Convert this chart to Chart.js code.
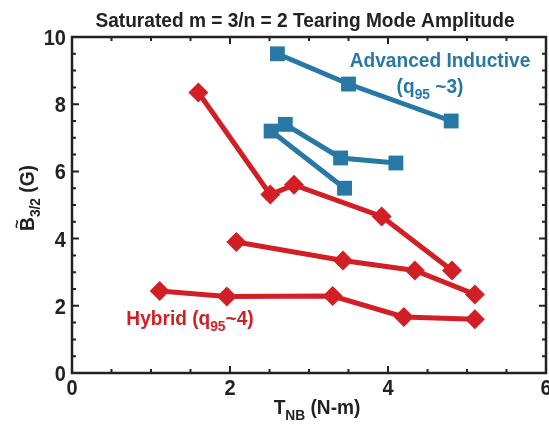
<!DOCTYPE html>
<html>
<head>
<meta charset="utf-8">
<script src="https://cdn.jsdelivr.net/npm/chart.js@4.4.1/dist/chart.umd.min.js"></script>
<style>
  html, body { margin: 0; padding: 0; background: #fff; }
  #wrap { width: 549px; height: 425px; }
</style>
</head>
<body>
<div id="wrap"><canvas id="tearingChart" width="549" height="425"></canvas></div>
<script>
const FONT = "'Liberation Sans', Arial, sans-serif";
const NARROW = 0.91; // squeeze to imitate a condensed face
const BLUE = "#2878a6";
const RED = "#d21f26";

// torque T_NB (N-m) and saturated amplitude (G)
const aiHighT = [2.6, 3.5, 4.8];
const aiHighB = [9.5, 8.6, 7.5];
const aiMidT = [2.7, 3.4, 4.1];
const aiMidB = [7.4, 6.4, 6.25];
const aiLowT = [2.52, 3.45];
const aiLowB = [7.2, 5.5];

const hyTopT = [1.6, 2.51, 2.81, 3.92, 4.81];
const hyTopB = [8.35, 5.31, 5.6, 4.66, 3.05];
const hyMidT = [2.08, 3.43, 4.34, 5.1];
const hyMidB = [3.9, 3.35, 3.05, 2.34];
const hyLowT = [1.11, 1.96, 3.3, 4.2, 5.1];
const hyLowB = [2.44, 2.28, 2.29, 1.67, 1.6];

const xTicks = [0, 2, 4, 6];
const yTicks = [0, 2, 4, 6, 8, 10];

function pts(xs, ys) {
  return xs.map((x, i) => ({ x: x, y: ys[i] }));
}

function series(xs, ys, color, shape, r) {
  return {
    data: pts(xs, ys),
    showLine: true,
    borderColor: color,
    backgroundColor: color,
    borderWidth: 5,
    pointStyle: shape,
    pointRadius: r,
    pointHoverRadius: r,
    pointBorderWidth: 0,
  };
}

// draw text made of [string, isSubscript] runs, squeezed horizontally
function runs(ctx, parts, x, y, size, align) {
  let w = 0;
  parts.forEach(([t, sub]) => {
    ctx.font = "bold " + (sub ? size * 0.72 : size) + "px " + FONT;
    w += ctx.measureText(t).width;
  });
  ctx.save();
  ctx.translate(x, y);
  ctx.scale(NARROW, 1);
  let cx = align === "center" ? -w / 2 : align === "right" ? -w : 0;
  parts.forEach(([t, sub]) => {
    ctx.font = "bold " + (sub ? size * 0.72 : size) + "px " + FONT;
    ctx.fillText(t, cx, sub ? size * 0.28 : 0);
    cx += ctx.measureText(t).width;
  });
  ctx.restore();
}

const framePlugin = {
  id: "frame",
  afterDraw(chart) {
    const { ctx, chartArea: a, scales } = chart;
    ctx.save();
    ctx.strokeStyle = "#222";
    ctx.lineWidth = 2.5;
    ctx.strokeRect(a.left, a.top, a.right - a.left, a.bottom - a.top);
    ctx.lineWidth = 2;
    ctx.beginPath();
    for (let v = 0; v <= 6.001; v += 0.5) {
      const px = scales.x.getPixelForValue(v);
      const len = Math.abs(v % 2) < 0.01 ? 7 : 4;
      ctx.moveTo(px, a.bottom); ctx.lineTo(px, a.bottom - len);
      ctx.moveTo(px, a.top); ctx.lineTo(px, a.top + len);
    }
    for (let v = 0; v <= 10.001; v += 0.5) {
      const py = scales.y.getPixelForValue(v);
      const len = Math.abs(v % 2) < 0.01 ? 7 : 4;
      ctx.moveTo(a.left, py); ctx.lineTo(a.left + len, py);
      ctx.moveTo(a.right, py); ctx.lineTo(a.right - len, py);
    }
    ctx.stroke();

    ctx.textBaseline = "alphabetic";
    ctx.textAlign = "left";
    ctx.fillStyle = "#222";
    // tick labels
    xTicks.forEach(v => runs(ctx, [[String(v), false]], scales.x.getPixelForValue(v), a.bottom + 22, 22, "center"));
    yTicks.forEach(v => runs(ctx, [[String(v), false]], a.left - 6, scales.y.getPixelForValue(v) + 8, 22, "right"));
    // title
    runs(ctx, [["Saturated m = 3/n = 2 Tearing Mode Amplitude", false]], 305, 27, 21, "center");
    // x axis title
    runs(ctx, [["T", false], ["NB", true], [" (N-m)", false]], 317, 414, 21, "center");
    // y axis title
    ctx.save();
    ctx.translate(34, 198);
    ctx.rotate(-Math.PI / 2);
    runs(ctx, [["B", false], ["3/2", true], [" (G)", false]], 0, 0, 21, "center");
    ctx.restore();
    // tilde over B
    ctx.save();
    ctx.translate(22, 224);
    ctx.rotate(-Math.PI / 2);
    ctx.font = "bold 15px " + FONT;
    ctx.textAlign = "center";
    ctx.fillText("~", 0, 0);
    ctx.restore();

    // annotations
    ctx.fillStyle = BLUE;
    runs(ctx, [["Advanced Inductive", false]], 440, 67, 21, "center");
    runs(ctx, [["(q", false], ["95", true], [" ~3)", false]], 430, 93, 21, "center");
    ctx.fillStyle = RED;
    runs(ctx, [["Hybrid (q", false], ["95", true], ["~4)", false]], 190, 325, 21, "center");
    ctx.restore();
  },
};

const ctxTearing = document.getElementById("tearingChart").getContext("2d");

const TearingChart = new Chart(ctxTearing, {
  type: "scatter",
  data: {
    datasets: [
      series(aiHighT, aiHighB, BLUE, "rect", 10.5),
      series(aiMidT, aiMidB, BLUE, "rect", 10.5),
      series(aiLowT, aiLowB, BLUE, "rect", 10.5),
      series(hyTopT, hyTopB, RED, "rectRot", 10),
      series(hyMidT, hyMidB, RED, "rectRot", 10),
      series(hyLowT, hyLowB, RED, "rectRot", 10),
    ],
  },
  options: {
    responsive: false,
    animation: false,
    layout: { autoPadding: false, padding: { top: 37, right: 3, left: 0, bottom: 0 } },
    plugins: {
      legend: { display: false },
      tooltip: { enabled: false },
    },
    scales: {
      x: {
        type: "linear",
        min: 0,
        max: 6,
        afterFit(scale) { scale.height = 52; },
        grid: { display: false, drawTicks: false },
        border: { display: false },
        ticks: { display: false },
      },
      y: {
        type: "linear",
        min: 0,
        max: 10,
        afterFit(scale) { scale.width = 72; },
        grid: { display: false, drawTicks: false },
        border: { display: false },
        ticks: { display: false },
      },
    },
  },
  plugins: [framePlugin],
});
</script>
</body>
</html>
